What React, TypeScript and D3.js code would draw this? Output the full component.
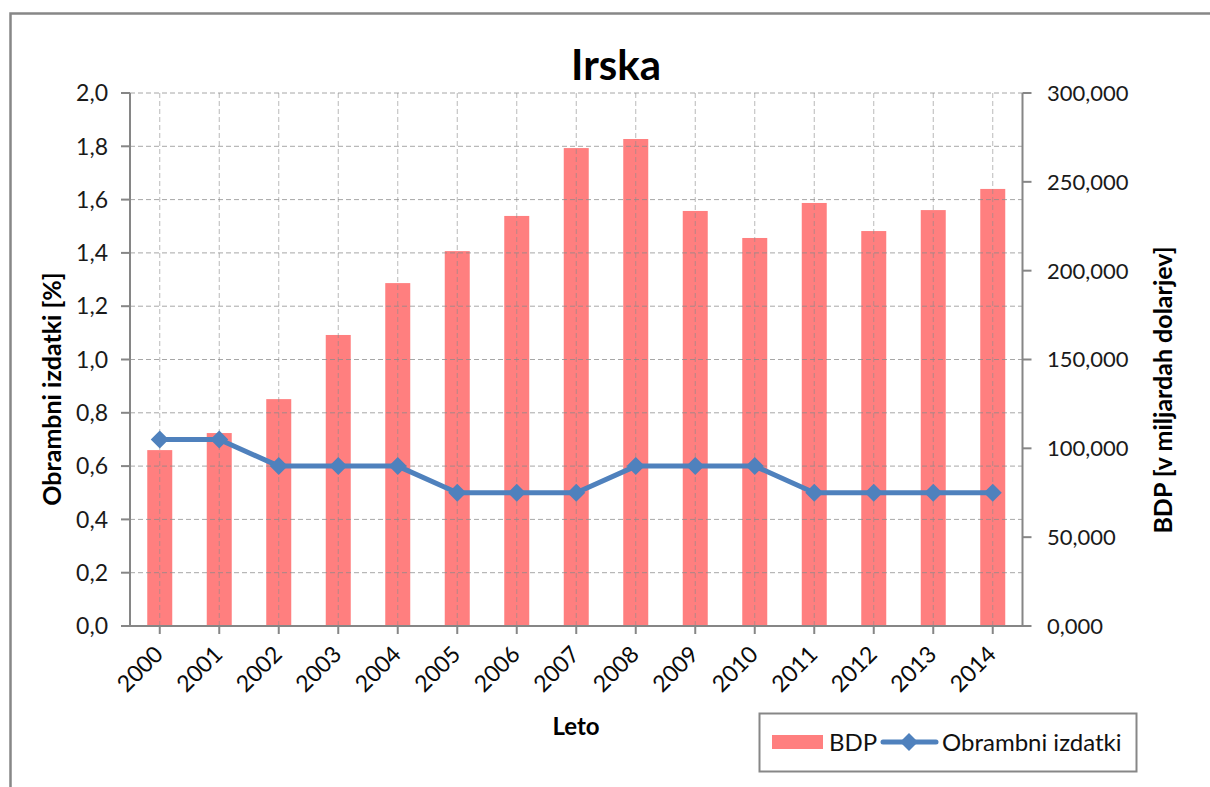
import React from 'react';
import * as d3 from 'd3';

const years = ['2000', '2001', '2002', '2003', '2004', '2005', '2006', '2007', '2008', '2009', '2010', '2011', '2012', '2013', '2014'];
const bdp = [99000, 108600, 127700, 163800, 193000, 211000, 230800, 269000, 274100, 233600, 218400, 238100, 222300, 234100, 246000];
const defence = [0.7, 0.7, 0.6, 0.6, 0.6, 0.5, 0.5, 0.5, 0.6, 0.6, 0.6, 0.5, 0.5, 0.5, 0.5];
const leftTicks = [0, 0.2, 0.4, 0.6, 0.8, 1.0, 1.2, 1.4, 1.6, 1.8, 2.0];
const rightTicks = [0, 50000, 100000, 150000, 200000, 250000, 300000];
const rightTickLabels = ['0,000', '50,000', '100,000', '150,000', '200,000', '250,000', '300,000'];

const FONT = 'Lato, "Open Sans", sans-serif';
const AXIS = '#868686';
const GRID = '#8a8a8a';
const BAR = '#FF7F7F';
const LINE = '#4F81BD';

const plot = { left: 130, right: 1022.5, top: 93, bottom: 626 };

export default function App() {
  const x = d3.scaleBand<string>().domain(years).range([plot.left, plot.right]).paddingInner(0.58).paddingOuter(0.29);
  const cx = (d: string) => (x(d) as number) + x.bandwidth() / 2;
  const yL = d3.scaleLinear().domain([0, 2]).range([plot.bottom, plot.top]);
  const yR = d3.scaleLinear().domain([0, 300000]).range([plot.bottom, plot.top]);

  const line = d3.line<number>()
    .x((_, i) => cx(years[i]))
    .y(d => yL(d));

  const diamond = (px: number, py: number, r = 9) =>
    `M${px},${py - r}L${px + r},${py}L${px},${py + r}L${px - r},${py}Z`;

  const fmtL = (v: number) => d3.format('.1f')(v).replace('.', ',');

  return (
    <svg width={1210} height={787} style={{ position: 'absolute', left: 0, top: 0, background: '#fff' }} fontFamily={FONT}>
      <rect x={10.5} y={13.5} width={1400} height={900} fill="#fff" stroke="#878787" strokeWidth={2.5} />

      {/* bars */}
      {years.map((yr, i) => (
        <rect key={yr} x={x(yr)} y={yR(bdp[i])} width={x.bandwidth()} height={plot.bottom - yR(bdp[i])} fill={BAR} />
      ))}

      {/* gridlines over bars */}
      {leftTicks.slice(1).map(t => (
        <line key={'h' + t} x1={plot.left} x2={plot.right} y1={yL(t)} y2={yL(t)} stroke={GRID} strokeOpacity={0.75} strokeWidth={1} strokeDasharray="5,3" />
      ))}
      {years.map(yr => (
        <line key={'v' + yr} x1={cx(yr)} x2={cx(yr)} y1={plot.top} y2={plot.bottom} stroke={GRID} strokeOpacity={0.6} strokeWidth={1} strokeDasharray="5,3" />
      ))}

      {/* axes */}
      <line x1={plot.left} x2={plot.left} y1={plot.top} y2={plot.bottom} stroke={AXIS} strokeWidth={2} />
      <line x1={plot.right} x2={plot.right} y1={plot.top} y2={plot.bottom} stroke={AXIS} strokeWidth={2} />
      <line x1={plot.left - 8} x2={plot.right + 8} y1={plot.bottom} y2={plot.bottom} stroke={AXIS} strokeWidth={2} />

      {leftTicks.map(t => (
        <g key={'lt' + t}>
          <line x1={plot.left - 9} x2={plot.left} y1={yL(t)} y2={yL(t)} stroke={AXIS} strokeWidth={2} />
          <text x={108} y={yL(t)} dy="0.36em" textAnchor="end" fontSize={23} fill="#1a1a1a">{fmtL(t)}</text>
        </g>
      ))}
      {rightTicks.map((t, i) => (
        <g key={'rt' + t}>
          <line x1={plot.right} x2={plot.right + 9} y1={yR(t)} y2={yR(t)} stroke={AXIS} strokeWidth={2} />
          <text x={1047} y={yR(t)} dy="0.36em" textAnchor="start" fontSize={22} fill="#1a1a1a">{rightTickLabels[i]}</text>
        </g>
      ))}
      {years.map(yr => (
        <g key={'xt' + yr}>
          <line x1={cx(yr)} x2={cx(yr)} y1={plot.bottom} y2={plot.bottom + 8} stroke={AXIS} strokeWidth={2} />
          <text transform={`translate(${cx(yr) - 1},${plot.bottom + 24}) rotate(-45)`} textAnchor="end" dy="0.35em" fontSize={23} fill="#0a0a0a">{yr}</text>
        </g>
      ))}

      {/* defence line */}
      <path d={line(defence) || ''} fill="none" stroke={LINE} strokeWidth={5} strokeLinejoin="round" />
      {defence.map((v, i) => (
        <path key={'m' + i} d={diamond(cx(years[i]), yL(v))} fill={LINE} />
      ))}

      {/* titles */}
      <text x={616} y={80} textAnchor="middle" fontSize={42} fontWeight="bold" fill="#000">Irska</text>
      <text transform={`translate(52,389) rotate(-90)`} textAnchor="middle" dy="0.35em" fontSize={25} fontWeight="bold" fill="#000">Obrambni izdatki [%]</text>
      <text transform={`translate(1163,390) rotate(-90)`} textAnchor="middle" dy="0.35em" fontSize={25} fontWeight="bold" fill="#000">BDP [v miljardah dolarjev]</text>
      <text x={576} y={727} textAnchor="middle" dy="0.35em" fontSize={24} fontWeight="bold" fill="#000">Leto</text>

      {/* legend */}
      <rect x={759.5} y={713.5} width={377} height={58} fill="#fff" stroke="#878787" strokeWidth={2} />
      <rect x={772} y={735} width={51} height={14} fill={BAR} />
      <text x={829} y={742} dy="0.36em" fontSize={24} fill="#111">BDP</text>
      <line x1={883} x2={936} y1={742} y2={742} stroke={LINE} strokeWidth={5} strokeLinecap="round" />
      <path d={diamond(909, 742)} fill={LINE} />
      <text x={942} y={742} dy="0.36em" fontSize={24} fill="#111">Obrambni izdatki</text>
    </svg>
  );
}
